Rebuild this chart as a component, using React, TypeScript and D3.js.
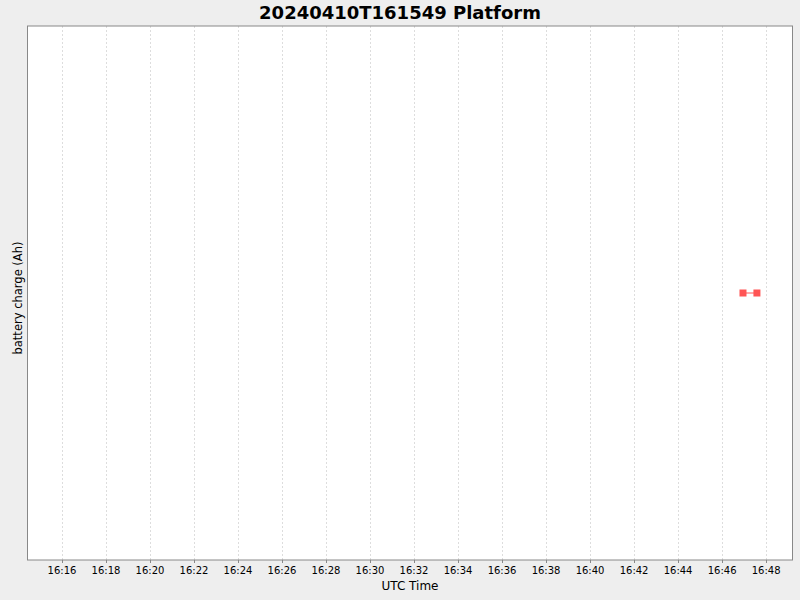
import React from 'react';
import * as d3 from 'd3';

// Observation times (UTC) and battery charge readings
const sampleTimes = ['2024-04-10T16:46:57Z', '2024-04-10T16:47:35Z'];
const chargeValues = [12.5, 12.5];
const timeDomain = ['2024-04-10T16:14:26Z', '2024-04-10T16:49:12Z'];
const chartTitle = '20240410T161549 Platform';
const xLabel = 'UTC Time';
const yLabel = 'battery charge (Ah)';

const W = 800;
const H = 600;
const margin = { top: 26, right: 7.5, bottom: 40, left: 27.5 };
const font = '"DejaVu Sans", sans-serif';

const App: React.FC = () => {
  const x = d3.scaleUtc()
    .domain(timeDomain.map(t => new Date(t)))
    .range([margin.left, W - margin.right]);

  const y = d3.scaleLinear()
    .domain([chargeValues[0] - 1, chargeValues[0] + 1])
    .range([H - margin.bottom, margin.top]);

  const ticks = x.ticks(d3.utcMinute.every(2) as d3.TimeInterval);
  const fmt = d3.utcFormat('%H:%M');

  const pts = sampleTimes.map((t, i) => ({ t: new Date(t), v: chargeValues[i] }));
  const line = d3.line<{ t: Date; v: number }>()
    .x(d => x(d.t))
    .y(d => y(d.v));

  const plotBottom = H - margin.bottom;

  return (
    <svg width={W} height={H} style={{ position: 'absolute', left: 0, top: 0 }}>
      <rect x={0} y={0} width={W} height={H} fill="#eeeeee" />
      <rect x={margin.left} y={margin.top} width={W - margin.left - margin.right}
        height={plotBottom - margin.top} fill="#ffffff" />

      {/* vertical grid lines */}
      {ticks.map(t => (
        <line key={'g' + t.getTime()} x1={Math.round(x(t)) + 0.5} x2={Math.round(x(t)) + 0.5}
          y1={margin.top} y2={plotBottom} stroke="#dddddd" strokeWidth={1} strokeDasharray="2,2" />
      ))}

      {/* plot border */}
      <rect x={margin.left} y={margin.top} width={W - margin.left - margin.right}
        height={plotBottom - margin.top} fill="none" stroke="#888888" strokeWidth={1} />

      {/* x ticks and labels */}
      {ticks.map(t => (
        <g key={'t' + t.getTime()}>
          <line x1={Math.round(x(t)) + 0.5} x2={Math.round(x(t)) + 0.5} y1={plotBottom} y2={plotBottom + 3}
            stroke="#888888" />
          <text x={x(t)} y={plotBottom + 14} textAnchor="middle" fontFamily={font} fontSize={10}
            fill="#000">{fmt(t)}</text>
        </g>
      ))}

      {/* series */}
      <path d={line(pts) || ''} fill="none" stroke="#ff5555" strokeWidth={1} />
      {pts.map((p, i) => (
        <rect key={i} x={x(p.t) - 3.5} y={y(p.v) - 3.5} width={7} height={7} fill="#ff5555" />
      ))}

      {/* titles */}
      <text x={W / 2} y={19} textAnchor="middle" fontFamily={font} fontWeight="bold" fontSize={18}
        fill="#000">{chartTitle}</text>
      <text x={(margin.left + W - margin.right) / 2} y={590} textAnchor="middle" fontFamily={font}
        fontSize={12} fill="#000">{xLabel}</text>
      <text transform={`translate(22,298) rotate(-90)`} textAnchor="middle"
        fontFamily={font} fontSize={11.5} fill="#000">{yLabel}</text>
    </svg>
  );
};

export default App;
